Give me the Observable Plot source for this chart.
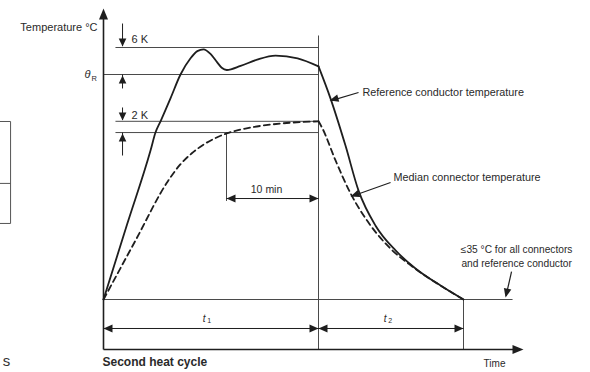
<!DOCTYPE html>
<html><head><meta charset="utf-8">
<script src="https://cdn.jsdelivr.net/npm/d3@7"></script>
<script src="https://cdn.jsdelivr.net/npm/@observablehq/plot@0.6"></script>
<style>html,body{margin:0;padding:0;background:#fff;}</style>
</head><body><div id="chart"></div>
<script>
// ---- data (time in minutes, temperature in °C) ----
const refHeatTime = [0, 2.55, 5.11, 5.65, 6.2, 7.28, 8.37, 9.46, 10.2, 10.87, 11.63, 12.36, 12.85, 13.4, 14.9, 16.7, 18.7, 21.1, 23.37];
const refHeatTemp = [35, 51.6, 68.1, 72.1, 74.6, 79.7, 85.0, 88.6, 90.2, 90.6, 89.6, 87.7, 86.5, 86.0, 86.9, 88.3, 89.2, 88.6, 86.8];
const refCoolTime = [23.37, 24.67, 26.3, 27.72, 29.57, 31.74, 33.91, 36.63, 39.13];
const refCoolTemp = [86.8, 79.7, 69.2, 59.2, 51.4, 45.9, 41.9, 38.1, 35];
const medHeatTime = [0, 3.5, 7.0, 8.3, 9.6, 11.1, 13.37, 15.98, 19.24, 23.37];
const medHeatTemp = [35, 48.2, 61.3, 64.9, 67.5, 69.7, 71.9, 73.2, 74.1, 74.6];
const medCoolTime = [23.37, 23.8, 25.22, 26.85, 28.8, 31.2, 33.59, 36.63, 39.13];
const medCoolTemp = [74.6, 73.0, 65.9, 58.6, 52.1, 46.3, 42.3, 38.1, 35];

const ambient = 35;          // ≤35 °C end of cooling
const thetaR = 85;           // reference conductor temperature θR
const overshootK = 6;        // 6 K band above θR
const medTop = 74.6;         // median connector, upper line of 2 K band
const medBottom = 72.1;      // median connector, lower line of 2 K band
const t1 = 23.37;            // heating period (min)
const t2 = 15.76;            // cooling period (min)
const stableMin = 10;        // 10 min stabilisation

const labels = {
  yTitle: "Temperature °C", six: "6 K", two: "2 K", theta: "θ", thetaSub: "R",
  ten: "10 min", ref: "Reference conductor temperature", med: "Median connector temperature",
  amb1: "≤35 °C for all connectors", amb2: "and reference conductor",
  cycle: "Second heat cycle", time: "Time", t: "t", t1sub: "1", t2sub: "2"
};

// ---- drawing ----
const xMin = 0, xMax = 45.65, yMin = 23.89, yMax = 99.67;
const ink = "#1e1e1e", thin = "#4a4a4a", txt = "#2a2a2a";
const font = "Liberation Sans, Arial, sans-serif";

function head(angleDeg, len = 10, half = 4) {
  const a = angleDeg * Math.PI / 180, ux = Math.cos(a), uy = Math.sin(a), px = -uy, py = ux;
  return {draw(ctx) {
    ctx.moveTo(0, 0);
    ctx.lineTo(-ux * len + px * half, -uy * len + py * half);
    ctx.lineTo(-ux * len - px * half, -uy * len - py * half);
    ctx.closePath();
  }};
}
const tip = (x, y, angle, len, half) =>
  Plot.dot([{x, y}], {x: "x", y: "y", symbol: head(angle, len, half), fill: ink, stroke: null, r: 3});
const seg = (x1, y1, x2, y2, stroke = thin, w = 1) =>
  Plot.link([{x1, y1, x2, y2}], {x1: "x1", y1: "y1", x2: "x2", y2: "y2", stroke, strokeWidth: w});
const label = (text, x, y, o = {}) =>
  Plot.text([{x, y, text}], {x: "x", y: "y", text: "text", fill: txt, fontFamily: font, fontSize: 10.5, textAnchor: "start", ...o});
const series = (ts, vs) => ts.map((t, i) => ({t, v: vs[i]}));

const top6 = thetaR + overshootK;
const endT = t1 + t2;
const bandStart = 1.3, arrowX = 2.07;
const tenY = 57.44, dimY = 28.56;

const chart = Plot.plot({
  width: 590, height: 372,
  marginLeft: 103, marginRight: 67, marginTop: 8, marginBottom: 23,
  x: {domain: [xMin, xMax], axis: null},
  y: {domain: [yMin, yMax], axis: null},
  style: {background: "#fff", fontFamily: font},
  marks: [
    // cropped neighbouring table fragment at far left
    seg(-12, 74.56, -10.1, 74.56, "#555", 1),
    seg(-12, 60.8, -10.1, 60.8, "#555", 1),
    seg(-12, 51.9, -10.1, 51.9, "#555", 1),
    seg(-10.1, 74.56, -10.1, 51.9, "#555", 1),
    label("s", -10.95, 21.2, {fontSize: 15, fill: "#333"}),

    // horizontal reference lines
    seg(bandStart, top6, t1, top6),
    seg(xMin, thetaR, t1, thetaR),
    seg(bandStart, medTop, t1, medTop),
    seg(bandStart, medBottom, t1, medBottom),
    seg(xMin, ambient, 44.46, ambient),
    // verticals
    seg(t1, 93.67, t1, yMin),
    seg(endT, ambient, endT, yMin),
    seg(t1 - stableMin, medBottom, t1 - stableMin, 56.9),

    // axes
    seg(xMin, yMin, xMin, yMax - 2, ink, 1.6),
    seg(xMin, yMin, xMax - 1, yMin, ink, 1.6),
    tip(xMin, yMax, -90, 11, 4.5),
    tip(xMax, yMin, 0, 11, 4.5),

    // 6 K / θR arrows
    seg(arrowX, 96.33, arrowX, top6 + 0.3, ink, 1),
    tip(arrowX, top6 + 0.2, 90, 8, 3.8),
    seg(arrowX, thetaR, arrowX, 81.9, ink, 1),
    tip(arrowX, thetaR - 0.2, -90, 8, 3.8),
    // 2 K arrows
    seg(arrowX, 77.67, arrowX, medTop + 0.3, ink, 1),
    tip(arrowX, medTop + 0.2, 90, 8, 3.8),
    seg(arrowX, medBottom, arrowX, 67.0, ink, 1),
    tip(arrowX, medBottom - 0.2, -90, 8, 3.8),

    // 10 min dimension
    seg(t1 - stableMin, tenY, t1, tenY, ink, 1),
    tip(t1 - stableMin, tenY, 180, 9, 4),
    tip(t1, tenY, 0, 9, 4),
    // t1 / t2 dimensions
    seg(xMin, dimY, endT, dimY, ink, 1),
    tip(xMin, dimY, 180, 9, 4),
    tip(t1, dimY, 0, 9, 4),
    tip(t1, dimY, 180, 9, 4),
    tip(endT, dimY, 0, 9, 4),

    // curves
    Plot.line(series(refHeatTime, refHeatTemp), {x: "t", y: "v", curve: "monotone-x", stroke: ink, strokeWidth: 1.8}),
    Plot.line(series(refCoolTime, refCoolTemp), {x: "t", y: "v", curve: "monotone-x", stroke: ink, strokeWidth: 1.8}),
    Plot.line(series(medHeatTime, medHeatTemp), {x: "t", y: "v", curve: "monotone-x", stroke: ink, strokeWidth: 1.8, strokeDasharray: "6,4"}),
    Plot.line(series(medCoolTime, medCoolTemp), {x: "t", y: "v", curve: "monotone-x", stroke: ink, strokeWidth: 1.8, strokeDasharray: "6,4"}),

    // leader arrows
    seg(27.72, 81.0, 24.75, 79.2, ink, 1.2),
    tip(24.57, 79.22, 164.6, 9, 3.8),
    seg(31.2, 61.0, 27.0, 57.95, ink, 1.2),
    tip(26.85, 57.9, 160.7, 9, 3.8),
    seg(44.35, 41.2, 43.75, 35.8, ink, 1.2),
    tip(43.7, 35.44, 103, 9, 3.8),

    // texts
    label(labels.yTitle, -0.65, 95.4, {textAnchor: "end", fontSize: 11}),
    label(labels.six, 3.04, 92.8, {fontSize: 11}),
    label(labels.theta, -1.75, 85.0, {fontSize: 11, fontStyle: "italic", textAnchor: "middle"}),
    label(labels.thetaSub, -1.0, 84.2, {fontSize: 7.5, textAnchor: "middle"}),
    label(labels.two, 3.04, 75.9, {fontSize: 11}),
    label(labels.ten, 17.72, 59.4, {textAnchor: "middle", fontSize: 10.5}),
    label(labels.t, 10.95, 30.8, {fontStyle: "italic", fontSize: 10, textAnchor: "middle"}),
    label(labels.t1sub, 11.5, 30.2, {fontSize: 7, textAnchor: "middle"}),
    label(labels.t, 30.6, 30.8, {fontStyle: "italic", fontSize: 10, textAnchor: "middle"}),
    label(labels.t2sub, 31.15, 30.2, {fontSize: 7, textAnchor: "middle"}),
    label(labels.ref, 28.15, 81.0, {fontSize: 10.8}),
    label(labels.med, 31.52, 62.1, {fontSize: 10.8}),
    label(labels.amb1, 44.9, 46.1, {textAnchor: "middle", fontSize: 10.2}),
    label(labels.amb2, 44.9, 43.0, {textAnchor: "middle", fontSize: 10.2}),
    label(labels.cycle, -0.11, 21.0, {fontSize: 12, fontWeight: "bold"}),
    label(labels.time, 42.5, 20.78, {textAnchor: "middle", fontSize: 10})
  ]
});
document.getElementById("chart").appendChild(chart);
</script>
</body></html>
